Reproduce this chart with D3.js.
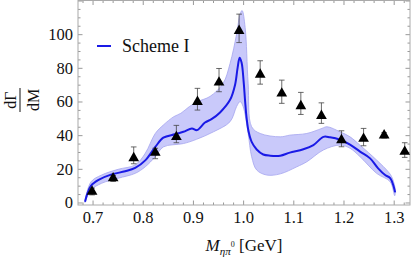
<!DOCTYPE html>
<html lang="en">
<head>
<meta charset="UTF-8">
<title>dGamma/dM vs M</title>
<script src="https://d3js.org/d3.v7.min.js"></script>
<style>
  body { margin: 0; background: #fff; }
  text { font-family: "Liberation Serif", "DejaVu Serif", serif; fill: #111; }
  .frame { fill: none; stroke: #aaa; stroke-width: 1; }
  .tick line { stroke: #999; }
  .band { fill: #c9c9fa; stroke: #a5a5ef; stroke-width: 0.8; }
  .curve { fill: none; stroke: #1a1ae6; stroke-width: 2; }
  .err { stroke: #444; stroke-width: 0.8; }
</style>
</head>
<body>
<svg id="chart" width="415" height="259"></svg>
<script>
    // model curve (Scheme I)
    const curveX = [0.685, 0.690, 0.697, 0.712, 0.738, 0.765, 0.785, 0.805, 0.825, 0.841,
                    0.864, 0.881, 0.898, 0.908, 0.924, 0.937, 0.954, 0.974, 0.984, 0.989,
                    0.993, 0.997, 1.001, 1.004, 1.007, 1.011, 1.017, 1.027, 1.040, 1.054,
                    1.074, 1.093, 1.120, 1.140, 1.160, 1.173, 1.193, 1.213, 1.233, 1.253,
                    1.269, 1.283, 1.293, 1.303];
    const curveY = [0.5, 5.5, 10, 13.4, 16.7, 18.5, 20.5, 25, 33, 38.5,
                    40.5, 42, 44, 43, 47.5, 49.5, 53.5, 61, 70, 80,
                    86, 83, 72, 60, 50, 42, 36, 31.5, 28.5, 27.8,
                    27.8, 29.6, 31.6, 34.1, 39, 38.7, 37.3, 34.4, 30.2, 26.2,
                    20.3, 16.3, 14.4, 6];

    // uncertainty band edges
    const upperX = [0.685, 0.697, 0.718, 0.751, 0.785, 0.805, 0.825, 0.841, 0.862, 0.876,
                    0.893, 0.910, 0.934, 0.960, 0.974, 0.987, 0.994, 0.998, 1.004, 1.010,
                    1.017, 1.034, 1.074, 1.093, 1.127, 1.157, 1.167, 1.193, 1.213, 1.233,
                    1.266, 1.289, 1.296, 1.303];
    const upperY = [1.5, 12.3, 16.3, 19.7, 22.3, 29.2, 41, 46, 51, 53,
                    57, 60, 63, 70.7, 82.6, 100, 112, 114, 104, 70.7,
                    45, 41, 39, 40, 41, 44, 45, 42, 39, 34,
                    25.2, 18.3, 15.3, 8];
    const lowerX = [0.685, 0.697, 0.718, 0.751, 0.785, 0.805, 0.825, 0.841, 0.881, 0.907,
                    0.941, 0.974, 0.987, 0.994, 1.000, 1.010, 1.017, 1.027, 1.047, 1.074,
                    1.107, 1.127, 1.160, 1.193, 1.213, 1.233, 1.266, 1.293, 1.302];
    const lowerY = [0, 7.4, 11.4, 14.4, 17.3, 21.2, 27.2, 33, 35, 37.5,
                    42, 48, 57, 60, 57, 41, 27.2, 19.3, 16.3, 17,
                    21.2, 24.2, 31.2, 34.1, 32.2, 27.2, 17.3, 12.3, 4];

    // measured points with error bars
    const ptsX = [0.699, 0.741, 0.782, 0.825, 0.867, 0.909, 0.952, 0.992,
                  1.034, 1.077, 1.115, 1.156, 1.196, 1.240, 1.281, 1.322];
    const ptsY = [6.5, 14.4, 26.4, 29.6, 39, 59.8, 71.3, 102,
                  76, 64.8, 57.3, 51.5, 37.1, 37.9, 39.9, 30.2];
    const ptsHi = [8.5, 16, 33, 32.2, 45.8, 67.8, 79.6, 111.9,
                   84.2, 72.7, 65.4, 59.2, 42.6, 44, 41.5, 35.5];
    const ptsLo = [4.5, 12.5, 23, 26, 35.5, 54.9, 65.8, 95,
                   70.3, 58.9, 52.3, 47, 33.1, 33.7, 38.3, 26.8];

    const xMajor = [0.7, 0.8, 0.9, 1.0, 1.1, 1.2, 1.3];
    const yMajor = [0, 20, 40, 60, 80, 100];
    const legendLabel = "Scheme I";

    const svg = d3.select("#chart");
    const pLeft = 78, pRight = 410, pTop = 0.5, pBottom = 205;

    const x = d3.scaleLinear().domain([0.671, 1.3325]).range([pLeft, pRight]);
    const y = d3.scaleLinear().domain([-1.5, 120]).range([pBottom, pTop]);

    const xMinor = d3.range(0.68, 1.33, 0.02).filter(v => !xMajor.some(m => Math.abs(m - v) < 1e-6));
    const yMinor = d3.range(0, 121, 5).filter(v => v % 20 !== 0);

    // ticks on all four sides, pointing inwards
    function ticks(axisFn, scale, major, minor, pos, labels) {
        const gMaj = svg.append("g").attr("transform", pos)
            .call(axisFn(scale).tickValues(major).tickSizeInner(-4.5).tickSizeOuter(0)
                .tickPadding(labels ? labels.pad : 0)
                .tickFormat(labels ? labels.fmt : ""));
        const gMin = svg.append("g").attr("transform", pos)
            .call(axisFn(scale).tickValues(minor).tickSizeInner(-2.5).tickSizeOuter(0).tickFormat(""));
        [gMaj, gMin].forEach(g => g.select(".domain").remove());
        gMaj.selectAll("text")
            .style("font-family", "'Liberation Serif', serif")
            .style("font-size", "16.5px")
            .style("fill", "#111");
    }
    ticks(d3.axisBottom, x, xMajor, xMinor, `translate(0,${pBottom})`, {pad: 6, fmt: d3.format(".1f")});
    ticks(d3.axisTop, x, xMajor, xMinor, `translate(0,${pTop})`, null);
    ticks(d3.axisLeft, y, yMajor.concat([120]), yMinor, `translate(${pLeft},0)`, {pad: 5, fmt: d => d === 120 ? "" : d});
    ticks(d3.axisRight, y, yMajor.concat([120]), yMinor, `translate(${pRight},0)`, null);

    svg.append("rect").attr("class", "frame")
        .attr("x", pLeft).attr("y", pTop).attr("width", pRight - pLeft).attr("height", pBottom - pTop);

    // band
    const upper = upperX.map((d, i) => [d, upperY[i]]);
    const lower = lowerX.map((d, i) => [d, lowerY[i]]).reverse();
    const bandLine = d3.line().x(d => x(d[0])).y(d => y(d[1])).curve(d3.curveCatmullRom.alpha(0.5));
    svg.append("path").attr("class", "band")
        .attr("d", bandLine(upper.concat(lower)) + "Z");

    // curve
    const line = d3.line().x(d => x(d[0])).y(d => y(d[1])).curve(d3.curveCatmullRom.alpha(0.5));
    svg.append("path").attr("class", "curve")
        .attr("d", line(curveX.map((d, i) => [d, curveY[i]])));

    // error bars
    const pts = ptsX.map((d, i) => ({x: d, y: ptsY[i], hi: ptsHi[i], lo: ptsLo[i]}));
    const eb = svg.append("g");
    pts.forEach(p => {
        eb.append("line").attr("class", "err")
            .attr("x1", x(p.x)).attr("x2", x(p.x)).attr("y1", y(p.hi)).attr("y2", y(p.lo));
        [p.hi, p.lo].forEach(v => eb.append("line").attr("class", "err")
            .attr("x1", x(p.x) - 2.8).attr("x2", x(p.x) + 2.8).attr("y1", y(v)).attr("y2", y(v)));
    });

    svg.append("g").selectAll("path").data(pts).join("path")
        .attr("d", d3.symbol(d3.symbolTriangle, 50))
        .attr("transform", d => `translate(${x(d.x)},${y(d.y)})`)
        .attr("fill", "#000");

    // legend
    svg.append("line").attr("x1", 97).attr("x2", 111).attr("y1", 46).attr("y2", 46)
        .attr("stroke", "#1a1ae6").attr("stroke-width", 2);
    svg.append("text").attr("x", 122).attr("y", 52).attr("font-size", 18).text(legendLabel);

    // x label
    const xl = svg.append("text").attr("x", (pLeft + pRight) / 2).attr("y", 251)
        .attr("text-anchor", "middle").attr("font-size", 17);
    xl.append("tspan").attr("font-style", "italic").text("M");
    xl.append("tspan").attr("font-style", "italic").attr("font-size", 11).attr("dy", 4).text("ηπ");
    xl.append("tspan").attr("font-size", 8).attr("dy", -8).text("0");
    xl.append("tspan").attr("dy", 4).text(" [GeV]");

    // y label: rotated fraction
    const yl = svg.append("g").attr("transform", "translate(20,100) rotate(-90)");
    yl.append("text").attr("x", 0).attr("y", -4).attr("text-anchor", "middle").attr("font-size", 16).text("dΓ");
    yl.append("line").attr("x1", -12).attr("x2", 12).attr("y1", 0).attr("y2", 0)
        .attr("stroke", "#111").attr("stroke-width", 1);
    yl.append("text").attr("x", 0).attr("y", 19).attr("text-anchor", "middle").attr("font-size", 16).text("dM");
</script>
</body>
</html>
